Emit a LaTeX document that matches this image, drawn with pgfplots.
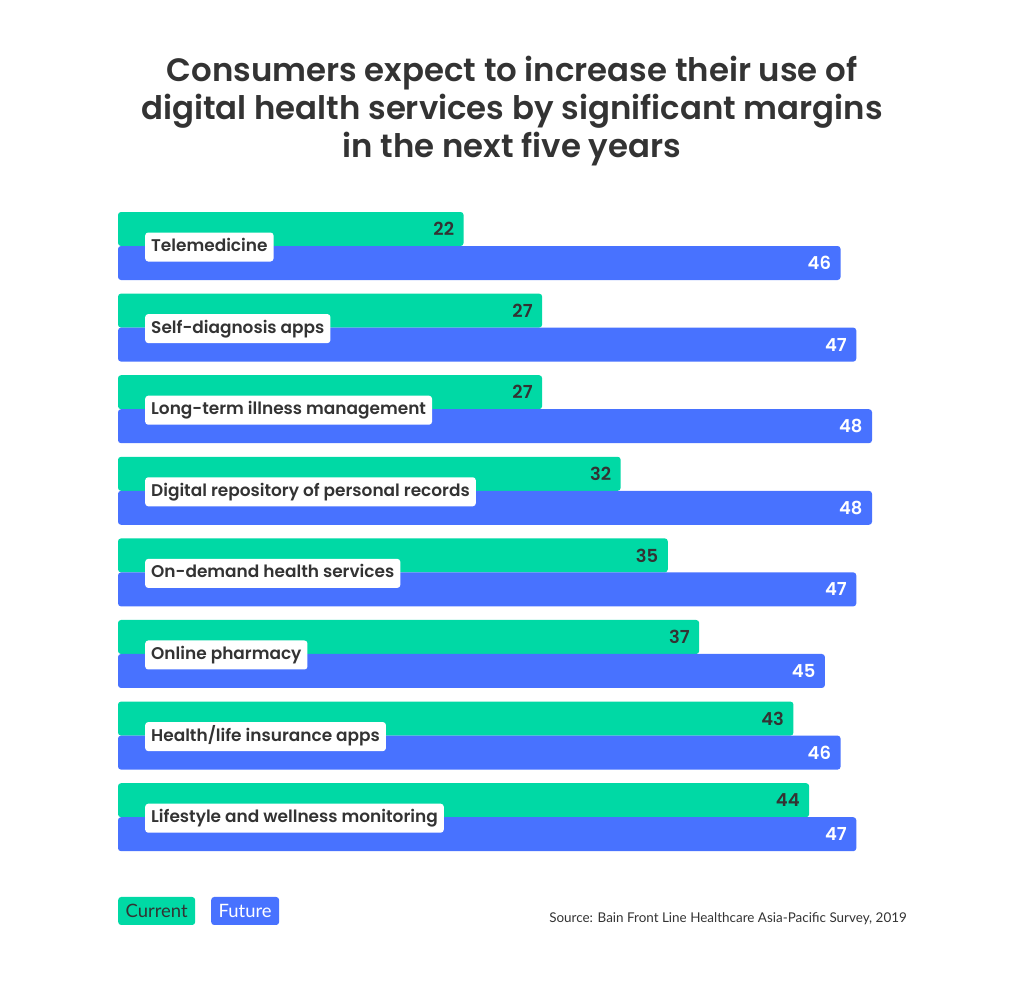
\documentclass[border=0pt]{standalone}
\usepackage{pgfplots}
\pgfplotsset{compat=1.18}
\usepackage{fontspec}
\setmainfont{Poppins}[BoldFont={Poppins SemiBold}]
\newfontfamily\srcfont{Lato}
\definecolor{cgreen}{HTML}{00D9A5}
\definecolor{cblue}{HTML}{4872FF}
\definecolor{ctext}{HTML}{333333}
\begin{document}
\begin{tikzpicture}
\path (0bp,0bp) rectangle (1024bp,985bp);
\node[anchor=north, align=center, font=\fontsize{32.5}{38}\selectfont\bfseries, text=ctext, inner sep=0] at (512bp,929bp) {Consumers expect to increase their use of\\digital health services by significant margins\\in the next five years};
\begin{axis}[at={(118bp,127bp)}, anchor=south west, scale only axis,
  width=754bp, height=652.8bp, xmin=0, xmax=48, ymin=-0.5, ymax=7.5,
  xbar, bar width=34bp, axis line style={draw=none}, axis on top,
  xtick=\empty, ytick={0,...,7},
  yticklabels={Lifestyle and wellness monitoring, Health/life insurance apps, Online pharmacy, On-demand health services, Digital repository of personal records, Long-term illness management, Self-diagnosis apps, Telemedicine},
  major tick length=0,
  yticklabel style={anchor=west, xshift=27bp, yshift=-1bp, fill=white, rounded corners=3bp, inner xsep=6bp, inner ysep=6.5bp, text height=12.5bp, text depth=3.5bp, font=\fontsize{17}{17}\selectfont\bfseries, text=ctext},
  /pgf/number format/assume math mode=true,
  clip=false, nodes near coords, point meta=x]
\addplot[fill=cgreen, draw=none, bar shift=17bp, rounded corners=3bp,
  nodes near coords style={anchor=east, xshift=-6bp, text=ctext, font=\fontsize{18}{18}\selectfont\bfseries}]
  coordinates {(22,7) (27,6) (27,5) (32,4) (35,3) (37,2) (43,1) (44,0)};
\addplot[fill=cblue, draw=none, bar shift=-17bp, rounded corners=3bp,
  nodes near coords style={anchor=east, xshift=-6bp, text=white, font=\fontsize{18}{18}\selectfont\bfseries}]
  coordinates {(46,7) (47,6) (48,5) (48,4) (47,3) (45,2) (46,1) (47,0)};
\end{axis}
\node[fill=cgreen, rounded corners=3bp, anchor=west, font=\srcfont\fontsize{18.5}{18.5}\selectfont, text=ctext, minimum height=28bp, inner xsep=7.5bp] at (118bp,74bp) {Current};
\node[fill=cblue, rounded corners=3bp, anchor=west, font=\srcfont\fontsize{18.5}{18.5}\selectfont, text=white, minimum height=28bp, inner xsep=7.5bp] at (211bp,74bp) {Future};
\node[anchor=east, font=\srcfont\fontsize{13.5}{13.5}\selectfont, text=ctext, inner sep=0] at (907bp,66bp) {Source: Bain Front Line Healthcare Asia-Pacific Survey, 2019};
\end{tikzpicture}
\end{document}
